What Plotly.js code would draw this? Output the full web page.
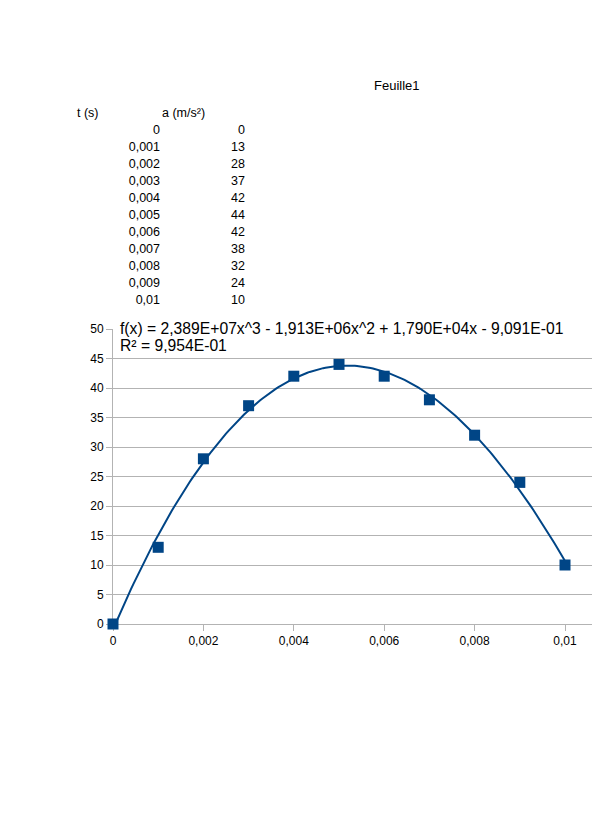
<!DOCTYPE html>
<html>
<head>
<meta charset="utf-8">
<script src="https://cdn.plot.ly/plotly-3.0.1.min.js"></script>
<style>
  body { margin: 0; background: #fff; font-family: "Liberation Sans", Arial, sans-serif; }
  #page { position: relative; width: 594px; height: 840px; }
  #chart { position: absolute; left: 0; top: 0; width: 594px; height: 840px; }
  .cell { position: absolute; font-size: 12.5px; line-height: 17px; color: #000; white-space: nowrap; }
</style>
</head>
<body>
<div id="page">
  <div id="chart"></div>
  <div id="sheet"></div>
</div>
<script>
// données de la feuille
const sheetName = 'Feuille1';
const headers = ['t (s)', 'a (m/s²)'];
const tLabels = ['0', '0,001', '0,002', '0,003', '0,004', '0,005', '0,006', '0,007', '0,008', '0,009', '0,01'];
const tValues = [0, 0.001, 0.002, 0.003, 0.004, 0.005, 0.006, 0.007, 0.008, 0.009, 0.01];
const aValues = [0, 13, 28, 37, 42, 44, 42, 38, 32, 24, 10];

// courbe de tendance (polynôme degré 3, coefficients affichés)
const trendCoefs = [2.389e7, -1.913e6, 1.790e4, -9.091e-1];
const trendText = 'f(x) = 2,389E+07x^3 - 1,913E+06x^2 + 1,790E+04x - 9,091E-01';
const r2Text = 'R² = 9,954E-01';

const xTickVals = [0, 0.002, 0.004, 0.006, 0.008, 0.01];
const xTickText = ['0', '0,002', '0,004', '0,006', '0,008', '0,01'];
const yTickVals = [0, 5, 10, 15, 20, 25, 30, 35, 40, 45, 50];

// --- tableau en HTML
const sheet = document.getElementById('sheet');
function addCell(text, css) {
    const d = document.createElement('div');
    d.className = 'cell';
    d.textContent = text;
    Object.assign(d.style, css);
    sheet.appendChild(d);
}
addCell(sheetName, { left: '374px', top: '77px', fontSize: '13px' });
addCell(headers[0], { left: '77px', top: '105px' });
addCell(headers[1], { left: '162px', top: '105px' });
tLabels.forEach((lab, i) => {
    const top = (130 + i * 17 - 8.5) + 'px';
    addCell(lab, { right: (594 - 160) + 'px', top: top });
    addCell(String(aValues[i]), { right: (594 - 245) + 'px', top: top });
});

// --- graphique
function poly(x) {
    return trendCoefs.reduce((acc, c) => acc * x + c, 0);
}
const trendX = [];
const trendY = [];
for (let i = 0; i <= 200; i++) {
    const x = 0.01 * i / 200;
    trendX.push(x);
    trendY.push(poly(x));
}

const blue = '#004586';
const grid = '#b3b3b3';

const trendTrace = {
    x: trendX, y: trendY, type: 'scatter', mode: 'lines',
    line: { color: blue, width: 2 },
    hoverinfo: 'skip', cliponaxis: false,
};
const pointsTrace = {
    x: tValues, y: aValues, type: 'scatter', mode: 'markers',
    marker: { symbol: 'square', size: 11, color: blue },
    cliponaxis: false,
};

const layout = {
    width: 594, height: 840,
    paper_bgcolor: 'rgba(0,0,0,0)',
    plot_bgcolor: 'rgba(0,0,0,0)',
    margin: { l: 113, r: 2, t: 329, b: 216 },
    font: { family: '"Liberation Sans", Arial, sans-serif', size: 12, color: '#000' },
    separators: ', ',
    showlegend: false,
    xaxis: {
        range: [0, 0.010597],
        tickvals: xTickVals, ticktext: xTickText,
        ticks: 'outside', ticklen: 6, tickcolor: grid,
        showgrid: false, zeroline: false,
        showline: true, linecolor: grid, linewidth: 1,
        layer: 'below traces',
        tickfont: { size: 12 },
    },
    yaxis: {
        range: [0, 50],
        tickvals: yTickVals,
        ticks: 'outside', ticklen: 6, tickcolor: grid,
        showgrid: true, gridcolor: grid, gridwidth: 1,
        zeroline: false,
        showline: true, linecolor: grid, linewidth: 1,
        layer: 'below traces',
        tickfont: { size: 12 },
    },
    annotations: [
        { text: trendText, xref: 'paper', yref: 'paper', x: 5 / 479, y: (624 - 328.5) / 295,
          xanchor: 'left', yanchor: 'middle', showarrow: false,
          font: { size: 15.7, color: '#000' } },
        { text: r2Text, xref: 'paper', yref: 'paper', x: 5 / 479, y: (624 - 345) / 295,
          xanchor: 'left', yanchor: 'middle', showarrow: false,
          font: { size: 15.7, color: '#000' } },
    ],
};

Plotly.newPlot('chart', [trendTrace, pointsTrace], layout, { displayModeBar: false, staticPlot: true });
</script>
</body>
</html>
